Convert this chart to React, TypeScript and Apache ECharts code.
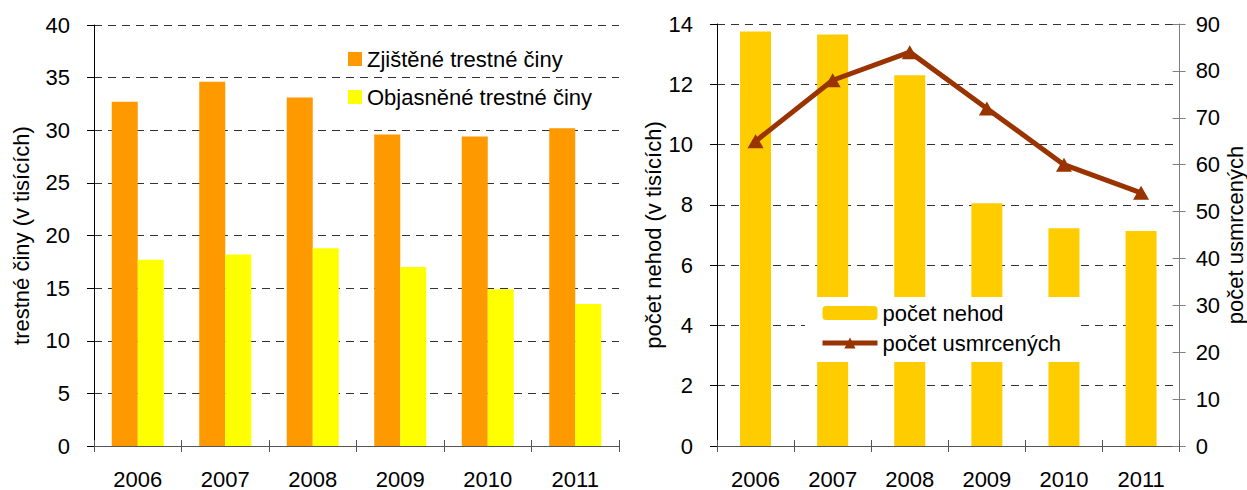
import React, { useEffect, useRef } from 'react';
import * as echarts from 'echarts';

const years = ['2006', '2007', '2008', '2009', '2010', '2011'];
const detectedCrimes = [32.7, 34.6, 33.1, 29.6, 29.4, 30.2];
const solvedCrimes = [17.7, 18.2, 18.8, 17.0, 14.9, 13.5];
const accidents = [13.75, 13.65, 12.3, 8.05, 7.22, 7.13];
const deaths = [65, 78, 84, 72, 60, 54];

const FONT = '"Liberation Sans", Arial, sans-serif';
const FS = 22;

export default function App() {
  const ref = useRef<HTMLDivElement>(null);
  useEffect(() => {
    document.body.style.margin = '0';
    const chart = echarts.init(ref.current!, null, { renderer: 'svg' });
    const gridLine = { show: true, lineStyle: { color: '#333', type: [8, 6] as any, width: 1 } };
    const label = { color: '#000', fontSize: FS, fontFamily: FONT };
    const option: any = {
      animation: false,
      textStyle: { fontFamily: FONT },
      grid: [
        { left: 94, top: 25, width: 525, height: 422 },
        { left: 717, top: 24, width: 465, height: 426 },
      ],
      legend: [
        {
          data: ['Zjištěné trestné činy', 'Objasněné trestné činy'],
          orient: 'vertical',
          left: 348,
          top: 48,
          padding: 0,
          itemGap: 16,
          itemWidth: 14,
          itemHeight: 14,
          icon: 'rect',
          textStyle: { ...label },
        },
        {
          data: ['počet nehod', 'počet usmrcených'],
          orient: 'vertical',
          left: 805,
          top: 297,
          padding: [5, 20, 8, 15],
          itemGap: 8,
          itemWidth: 55,
          itemHeight: 14,
          backgroundColor: '#fff',
          lineStyle: { width: 5 },
          textStyle: { ...label },
        },
      ],
      xAxis: [
        {
          type: 'category', gridIndex: 0, data: years,
          axisLine: { lineStyle: { color: '#555', width: 1 } },
          axisTick: { show: true, length: 6, lineStyle: { color: '#555' } },
          axisLabel: { ...label, margin: 22 },
        },
        {
          type: 'category', gridIndex: 0, data: years, position: 'bottom',
          axisLine: { show: false },
          axisTick: { show: true, inside: true, length: 6, lineStyle: { color: '#555' } },
          axisLabel: { show: false },
        },
        {
          type: 'category', gridIndex: 1, data: years,
          axisLine: { lineStyle: { color: '#555', width: 1 } },
          axisTick: { show: true, length: 6, lineStyle: { color: '#555' } },
          axisLabel: { ...label, margin: 22 },
        },
        {
          type: 'category', gridIndex: 1, data: years, position: 'bottom',
          axisLine: { show: false },
          axisTick: { show: true, inside: true, length: 6, lineStyle: { color: '#555' } },
          axisLabel: { show: false },
        },
      ],
      yAxis: [
        {
          type: 'value', gridIndex: 0, min: 0, max: 40, interval: 5,
          name: 'trestné činy (v tisících)', nameLocation: 'middle', nameGap: 62, nameRotate: 90,
          nameTextStyle: { ...label },
          axisLine: { show: true, lineStyle: { color: '#000', width: 1 } },
          axisTick: { show: true, length: 7, lineStyle: { color: '#000' } },
          axisLabel: { ...label, margin: 24 },
          splitLine: gridLine,
        },
        {
          type: 'value', gridIndex: 1, min: 0, max: 14, interval: 2,
          name: 'počet nehod (v tisících)', nameLocation: 'middle', nameGap: 51, nameRotate: 90,
          nameTextStyle: { ...label },
          axisLine: { show: true, lineStyle: { color: '#000', width: 1 } },
          axisTick: { show: true, length: 7, lineStyle: { color: '#000' } },
          axisLabel: { ...label, margin: 24 },
          splitLine: gridLine,
        },
        {
          type: 'value', gridIndex: 1, min: 0, max: 90, interval: 10, position: 'right',
          name: 'počet usmrcených', nameLocation: 'middle', nameGap: 36, nameRotate: 90,
          nameTextStyle: { ...label },
          axisLine: { show: true, lineStyle: { color: '#808080', width: 1 } },
          axisTick: { show: true, length: 6, lineStyle: { color: '#808080' } },
          axisLabel: { ...label, margin: 16 },
          splitLine: { show: false },
        },
        {
          type: 'value', gridIndex: 1, min: 0, max: 90, interval: 10, position: 'right',
          axisLine: { show: false },
          axisTick: { show: true, inside: true, length: 7, lineStyle: { color: '#808080' } },
          axisLabel: { show: false },
          splitLine: { show: false },
        },
      ],
      series: [
        {
          name: 'Zjištěné trestné činy', type: 'bar', xAxisIndex: 0, yAxisIndex: 0,
          data: detectedCrimes, barWidth: 26, barGap: '0%', itemStyle: { color: '#FF9900' },
        },
        {
          name: 'Objasněné trestné činy', type: 'bar', xAxisIndex: 0, yAxisIndex: 0,
          data: solvedCrimes, barWidth: 26, barGap: '0%', itemStyle: { color: '#FFFF00' },
        },
        {
          name: 'počet nehod', type: 'bar', xAxisIndex: 2, yAxisIndex: 1,
          data: accidents, barWidth: 31, itemStyle: { color: '#FFCC00' },
        },
        {
          name: 'počet usmrcených', type: 'line', xAxisIndex: 2, yAxisIndex: 2,
          data: deaths, symbol: 'triangle', symbolSize: [16, 14],
          lineStyle: { color: '#993300', width: 5 },
          itemStyle: { color: '#993300' },
          z: 5,
        },
      ],
    };
    chart.setOption(option);
    return () => chart.dispose();
  }, []);
  return <div ref={ref} style={{ width: 1247, height: 490 }} />;
}
